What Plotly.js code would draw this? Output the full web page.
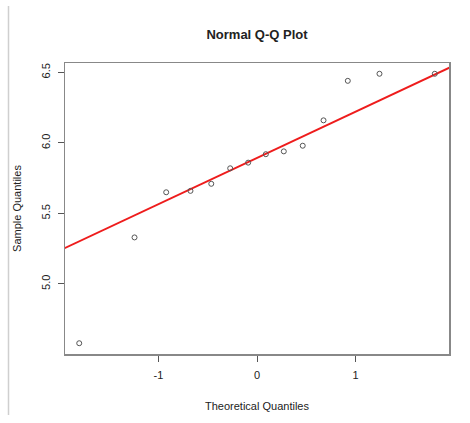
<!DOCTYPE html>
<html>
<head>
<meta charset="utf-8">
<script src="https://cdn.plot.ly/plotly-3.0.1.min.js"></script>
<style>
  html, body { margin: 0; padding: 0; background: #fff; }
  #chart { width: 470px; height: 423px; }
</style>
</head>
<body>
<div id="chart"></div>
<script>
// Theoretical normal quantiles for n = 14 (ppoints, a = 0.5)
const theoretical = [-1.8027, -1.2419, -0.9208, -0.6745, -0.4637, -0.2719, -0.0896,
                      0.0896,  0.2719,  0.4637,  0.6745,  0.9208,  1.2419,  1.8027];
// Ordered sample values
const sample = [4.58, 5.33, 5.65, 5.66, 5.71, 5.82, 5.86,
                5.92, 5.94, 5.98, 6.16, 6.44, 6.49, 6.49];
const xTicks = [-1, 0, 1];
const yTicks = [5.0, 5.5, 6.0, 6.5];
const yTickText = ['5.0', '5.5', '6.0', '6.5'];

// Reference line through the first and third quartiles (type-7 quantiles)
function quantile7(arr, p) {
  const s = arr.slice().sort((a, b) => a - b);
  const h = (s.length - 1) * p;
  const lo = Math.floor(h);
  const hi = Math.min(lo + 1, s.length - 1);
  return s[lo] + (h - lo) * (s[hi] - s[lo]);
}
const zq = 0.6744898;
const y1 = quantile7(sample, 0.25), y3 = quantile7(sample, 0.75);
const slope = (y3 - y1) / (2 * zq);
const intercept = y1 + slope * zq;
const lineX = [-3, 3];
const lineY = lineX.map(x => intercept + slope * x);

// Axis limits padded 4% like base graphics
function padRange(a) {
  const mn = Math.min(...a), mx = Math.max(...a), d = (mx - mn) * 0.04;
  return [mn - d, mx + d];
}

const font = { family: 'Liberation Sans, Arial, sans-serif', color: '#222' };

Plotly.newPlot('chart', [
  {
    x: lineX, y: lineY, mode: 'lines', type: 'scatter',
    line: { color: '#ee1c1c', width: 2 }, hoverinfo: 'skip'
  },
  {
    x: theoretical, y: sample, mode: 'markers', type: 'scatter',
    marker: { symbol: 'circle-open', size: 5, color: '#555', line: { width: 1, color: '#555' } }
  }
], {
  width: 470, height: 423,
  margin: { l: 65, r: 21, t: 63, b: 69 },
  paper_bgcolor: '#fff', plot_bgcolor: '#fff',
  showlegend: false,
  font: Object.assign({ size: 11 }, font),
  title: {
    text: '<b>Normal Q-Q Plot</b>',
    font: Object.assign({ size: 13 }, font),
    x: 0.5, xanchor: 'center', xref: 'paper', y: 1, yref: 'container', yanchor: 'top', pad: { t: 30 }
  },
  xaxis: {
    range: padRange(theoretical),
    tickmode: 'array', tickvals: xTicks, ticktext: ['-1', '0', '1'],
    ticks: 'outside', ticklen: 6, tickcolor: '#555', tickwidth: 1,
    ticklabelstandoff: 4,
    showgrid: false, zeroline: false,
    showline: true, mirror: true, linecolor: '#888', linewidth: 1.5,
    tickfont: Object.assign({ size: 11 }, font),
    title: { text: 'Theoretical Quantiles', font: Object.assign({ size: 11 }, font), standoff: 22 }
  },
  yaxis: {
    range: padRange(sample),
    tickmode: 'array', tickvals: yTicks, ticktext: yTickText,
    ticks: 'outside', ticklen: 6, tickcolor: '#555', tickwidth: 1,
    tickangle: -90,
    ticklabelstandoff: 3,
    showgrid: false, zeroline: false,
    showline: true, mirror: true, linecolor: '#888', linewidth: 1.5,
    tickfont: Object.assign({ size: 11 }, font),
    title: { text: 'Sample Quantiles', font: Object.assign({ size: 11 }, font), standoff: 16 }
  },
  shapes: [{
    type: 'line', xref: 'paper', yref: 'paper',
    x0: (8.5 - 65) / 384, x1: (8.5 - 65) / 384,
    y0: (354 - 415) / 291, y1: (354 - 6) / 291,
    line: { color: '#cfcfcf', width: 1.5 }
  }]
}, { displayModeBar: false, staticPlot: true });
</script>
</body>
</html>
